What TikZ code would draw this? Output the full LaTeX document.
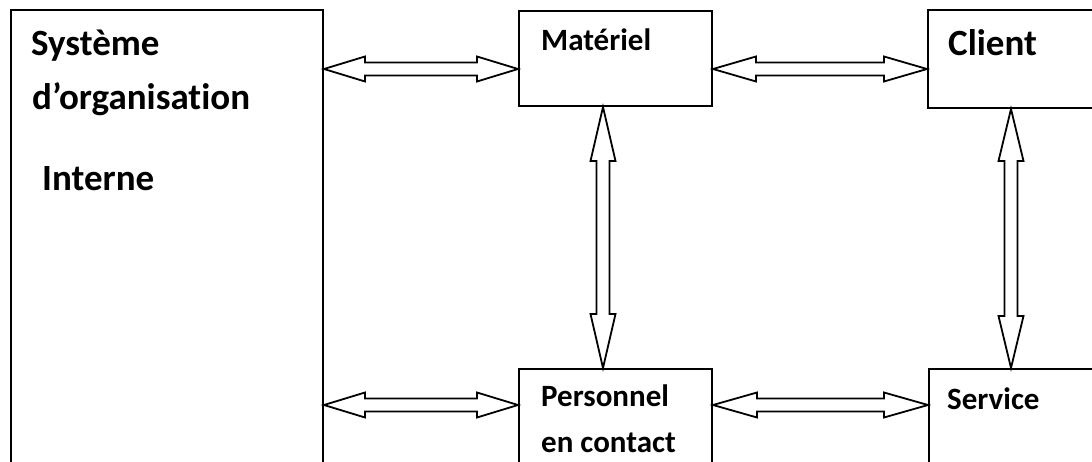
\documentclass[tikz,border=0pt]{standalone}
\usepackage{fontspec}
\setmainfont{Carlito}[Ligatures=NoCommon]
\usetikzlibrary{calc}

\tikzset{
  box/.style={draw=black, line width=2pt, rectangle, inner sep=0pt, anchor=north west},
  arrowline/.style={draw=black, fill=white, line width=1.8pt, line join=miter},
  label/.style={inner sep=0pt, anchor=base west},
  bigtext/.style={label, font=\bfseries\fontsize{37}{40}\selectfont},
  smalltext/.style={label, font=\bfseries\fontsize{31}{36}\selectfont},
}

% double-headed block arrow: #1 head length, #2 and #3 tip points
\newcommand\blockarrow[3]{%
  \draw[arrowline]
    (#2)
    -- ($($(#2)!#1!(#3)$)!12.5pt!90:(#3)$)
    -- ($($(#2)!#1!(#3)$)!6.5pt!90:(#3)$)
    -- ($($(#3)!#1!(#2)$)!6.5pt!-90:(#2)$)
    -- ($($(#3)!#1!(#2)$)!12.5pt!-90:(#2)$)
    -- (#3)
    -- ($($(#3)!#1!(#2)$)!12.5pt!90:(#2)$)
    -- ($($(#3)!#1!(#2)$)!6.5pt!90:(#2)$)
    -- ($($(#2)!#1!(#3)$)!6.5pt!-90:(#3)$)
    -- ($($(#2)!#1!(#3)$)!12.5pt!-90:(#3)$)
    -- cycle;%
}

\begin{document}
\begin{tikzpicture}[x=1pt, y=-1pt]
  \useasboundingbox (0,0) rectangle (1092,462);
  \clip (0,0) rectangle (1092,462);

  % boxes
  \node[box, minimum width=312pt, minimum height=480pt] (sys) at (10,9) {};
  \node[box, minimum width=193pt, minimum height=95pt]  (mat) at (518,10) {};
  \node[box, minimum width=220pt, minimum height=98pt]  (cli) at (927,9) {};
  \node[box, minimum width=193pt, minimum height=120pt] (per) at (518,368) {};
  \node[box, minimum width=220pt, minimum height=120pt] (ser) at (928,368) {};

  % labels
  \node[bigtext] (sysA) at (31,56) {Système};
  \node[bigtext] (sysB) at (32,110) {d’organisation};
  \node[bigtext] (sysC) at (42,191) {Interne};
  \node[smalltext] (matT) at (541,51) {Matériel};
  \node[bigtext] (cliT) at (948,56) {Client};
  \node[smalltext] (perA) at (541,406) {Personnel};
  \node[smalltext] (perB) at (541,452) {en contact};
  \node[smalltext] (serT) at (947,409) {Service};

  % arrow end points on the box borders
  \coordinate (sysTop) at (sys.east |- 0,69);
  \coordinate (matL)   at (mat.west |- 0,69);
  \coordinate (matR)   at (mat.east |- 0,69);
  \coordinate (cliL)   at (cli.west |- 0,69);
  \coordinate (sysBot) at (sys.east |- 0,405);
  \coordinate (perL)   at (per.west |- 0,405);
  \coordinate (perR)   at (per.east |- 0,405);
  \coordinate (serL)   at (ser.west |- 0,405);
  \coordinate (matB)   at (mat.south -| 603,0);
  \coordinate (perT)   at (per.north -| 603,0);
  \coordinate (cliB)   at (cli.south -| 1011,0);
  \coordinate (serT2)  at (ser.north -| 1011,0);

  % connectors
  \blockarrow{41pt}{sysTop}{matL}
  \blockarrow{43pt}{matR}{cliL}
  \blockarrow{41pt}{sysBot}{perL}
  \blockarrow{44pt}{perR}{serL}
  \blockarrow{54pt}{matB}{perT}
  \blockarrow{52pt}{cliB}{serT2}
\end{tikzpicture}
\end{document}
